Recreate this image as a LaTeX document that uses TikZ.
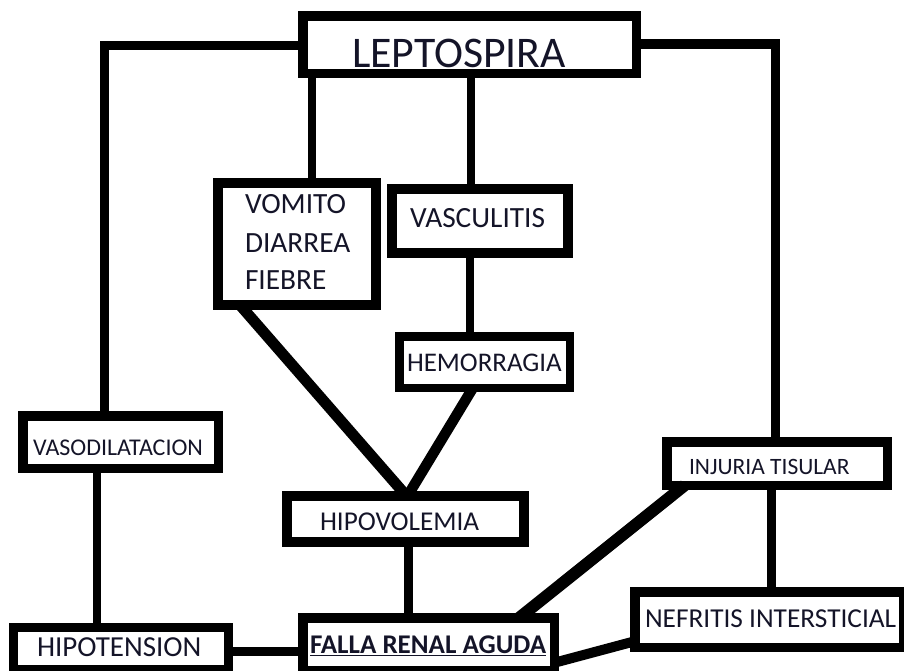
\documentclass[tikz,border=0pt]{standalone}
\usepackage{fontspec}
\setmainfont{Carlito}
\usetikzlibrary{calc}
\definecolor{txt}{RGB}{20,20,40}
\newcommand{\myfs}[1]{\fontsize{#1pt}{#1pt}\selectfont}
\tikzset{
  boxs/.style n args={3}{draw=black, line width=#3*0.75pt, minimum width=#1*0.75pt,
    minimum height=#2*0.75pt, inner sep=0pt, outer sep=0pt},
  lbl/.style={anchor=base west, inner sep=0pt, outer sep=0pt, text=txt},
  conn/.style={draw=black, line width=#1*0.75pt, line join=miter, line cap=butt},
}
\begin{document}
\begin{tikzpicture}[x=0.75pt,y=-0.75pt]
\useasboundingbox (0,0) rectangle (904,671);
\clip (0,0) rectangle (904,671);
% texts
\node[lbl, font={\myfs{32.8}}] (tlepto) at (352,67) {LEPTOSPIRA};
\node[lbl, font={\myfs{22}}] (tvom1) at (245,213) {VOMITO};
\node[lbl, font={\myfs{22}}] (tvom2) at (245,252) {DIARREA};
\node[lbl, font={\myfs{22}}] (tvom3) at (245,289) {FIEBRE};
\node[lbl, font={\myfs{22}}] (tvasc) at (410,227) {VASCULITIS};
\node[lbl, font={\myfs{20.2}}] (themo) at (407,371) {HEMORRAGIA};
\node[lbl, font={\myfs{18}}] (tvaso) at (33,455) {VASODILATACION};
\node[lbl, font={\myfs{21.75}}] (thipot) at (37,656) {HIPOTENSION};
\node[lbl, font={\myfs{20.4}}] (thipov) at (320,530) {HIPOVOLEMIA};
\node[lbl, font={\myfs{20.25}\bfseries}] (tfalla) at (310,653) {\underline{FALLA RENAL AGUDA}};
\node[lbl, font={\myfs{17.6}}] (tinj) at (689,474) {INJURIA TISULAR};
\node[lbl, font={\myfs{20.5}}] (tnef) at (645,627) {NEFRITIS INTERSTICIAL};
% boxes
\node[boxs={333.5}{57.5}{9.5}] (lepto) at (469.5,44.5) {};
\node[boxs={158}{122}{10}] (vomito) at (297,244) {};
\node[boxs={176}{64}{10}] (vasc) at (480,221) {};
\node[boxs={170.5}{51.5}{8.5}] (hemo) at (484.5,362) {};
\node[boxs={195.5}{52.5}{9.5}] (vaso) at (120.5,442) {};
\node[boxs={215}{42}{9}] (hipot) at (121,648.5) {};
\node[boxs={237}{46}{10}] (hipov) at (405.5,519) {};
\node[boxs={251.5}{52.5}{9.5}] (falla) at (428.5,644) {};
\node[boxs={220.5}{43.5}{9.5}] (inj) at (777,463.5) {};
\node[boxs={268.5}{55.5}{9.5}] (nef) at (769,619.5) {};
% guide coordinates
\coordinate (cL) at (104,45.5);
\coordinate (cR) at (775.5,44);
\coordinate (xa) at (312,0);
\coordinate (xb) at (471,0);
\coordinate (xc) at (470,0);
\coordinate (xd) at (97,0);
\coordinate (xe) at (408.5,0);
\coordinate (xf) at (771.5,0);
\coordinate (yg) at (0,651.5);
% connectors
\draw[conn=9] (lepto.west |- cL) -| (vaso.north -| cL);
\draw[conn=9.5] (lepto.east |- cR) -| (inj.north -| cR);
\draw[conn=8] (lepto.south -| xa) -- (vomito.north -| xa);
\draw[conn=8.5] (lepto.south -| xb) -- (vasc.north -| xb);
\draw[conn=8.5] (vasc.south -| xc) -- (hemo.north -| xc);
\draw[conn=11] ($(vomito.south west)+(22,0)$) -- ($(hipov.north)+(1,0)$);
\draw[conn=10.5] ($(hemo.south)+(-11.5,0)$) -- ($(hipov.north)+(2,0)$);
\draw[conn=8] (vaso.south -| xd) -- (hipot.north -| xd);
\draw[conn=9] (hipov.south -| xe) -- (falla.north -| xe);
\draw[conn=9.5] (hipot.east |- yg) -- (falla.west |- yg);
\draw[conn=8.5] (inj.south -| xf) -- (nef.north -| xf);
\draw[conn=12] ($(inj.south west)+(18,0)$) -- ($(falla.north east)+(-35,0)$);
\draw[conn=10] ($(falla.south east)+(2,-8)$) -- ($(nef.south west)+(0,-6)$);
\end{tikzpicture}
\end{document}
